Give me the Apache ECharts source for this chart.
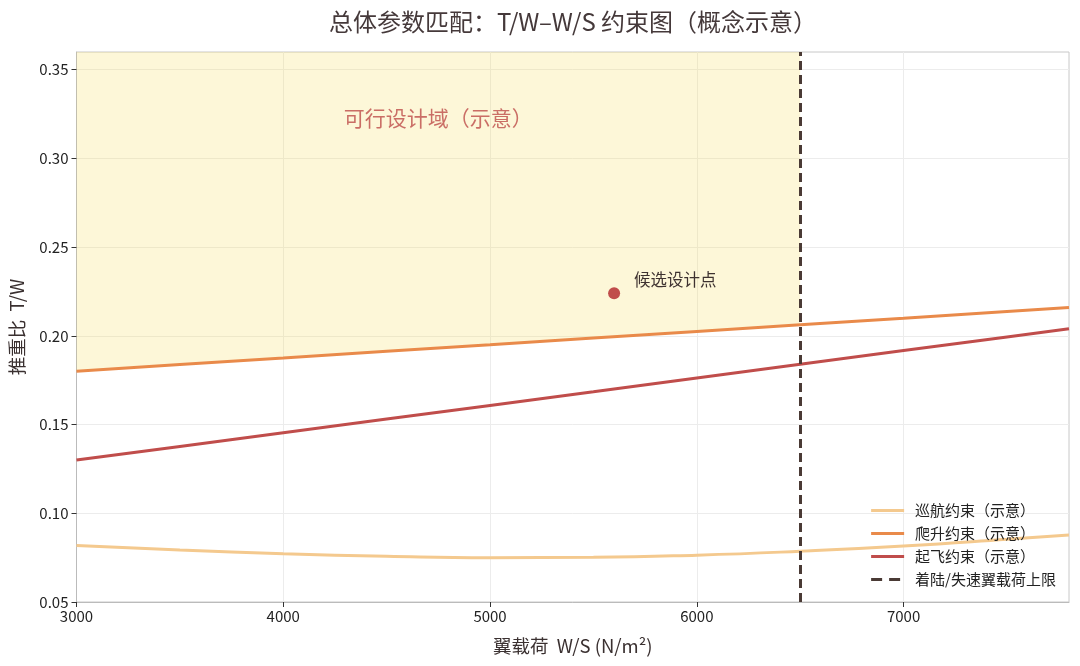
<!DOCTYPE html>
<html><head><meta charset="utf-8">
<script src="https://cdn.jsdelivr.net/npm/echarts@6/dist/echarts.min.js"></script>
<style>html,body{margin:0;padding:0;background:#fff}#c{width:1080px;height:666px}</style>
</head><body><div id="c"></div>
<script>
const xTicks = [3000, 4000, 5000, 6000, 7000];
const yTicks = [0.05, 0.10, 0.15, 0.20, 0.25, 0.30, 0.35];
const wsValues = [3000, 3500, 4000, 4500, 5000, 5500, 6000, 6500, 7000, 7500, 7800];
const cruiseTW = [0.0818, 0.0793, 0.0772, 0.0758, 0.0750, 0.0752, 0.0764, 0.0786, 0.0815, 0.0853, 0.0878];
const climbTW = [0.1800, 0.1838, 0.1875, 0.1913, 0.1950, 0.1988, 0.2025, 0.2063, 0.2100, 0.2138, 0.2160];
const takeoffTW = [0.1300, 0.1377, 0.1454, 0.1531, 0.1608, 0.1685, 0.1763, 0.1840, 0.1917, 0.1994, 0.2040];
const landingLimitWS = 6500;
const candidate = [5600, 0.224];
const feasibleLabelPos = [4750, 0.323];

const pair = (ys) => wsValues.map((x, i) => [x, ys[i]]);
const feasible = pair(climbTW).filter(p => p[0] <= landingLimitWS);
const FONT = '"Noto Sans CJK SC", "Noto Sans", sans-serif';
const legendNames = ['巡航约束（示意）', '爬升约束（示意）', '起飞约束（示意）', '着陆/失速翼载荷上限'];

const chart = echarts.init(document.getElementById('c'));
chart.setOption({
  backgroundColor: '#fff',
  animation: false,
  textStyle: { fontFamily: FONT },
  title: {
    text: '总体参数匹配：T/W–W/S 约束图（概念示意）',
    left: 568, top: 5, textAlign: 'center',
    textStyle: { fontFamily: FONT, fontSize: 24, fontWeight: 'normal', color: '#45393a' }
  },
  grid: { left: 75, right: 11, top: 52, bottom: 64, show: true, borderColor: '#c8c8c8', borderWidth: 1, containLabel: false },
  xAxis: {
    type: 'value', min: 3000, max: 7800, interval: 1000,
    name: '翼载荷  W/S (N/m²)', nameLocation: 'middle', nameGap: 35,
    nameTextStyle: { fontFamily: FONT, fontSize: 18.5, color: '#3a3030' },
    axisLine: { show: true, lineStyle: { color: '#bbbbbb', width: 1 } },
    axisTick: { show: true, length: 5, lineStyle: { color: '#333' }, customValues: xTicks },
    axisLabel: { fontFamily: FONT, fontSize: 15, color: '#222', margin: 7, customValues: xTicks,
      formatter: v => String(v) },
    splitLine: { show: true, lineStyle: { color: '#ececec', width: 1 } }
  },
  yAxis: {
    type: 'value', min: 0.05, max: 0.36, interval: 0.05,
    name: '推重比  T/W', nameLocation: 'middle', nameGap: 50,
    nameTextStyle: { fontFamily: FONT, fontSize: 18.5, color: '#3a3030' },
    axisLine: { show: true, lineStyle: { color: '#bbbbbb', width: 1 } },
    axisTick: { show: true, length: 5, lineStyle: { color: '#333' }, customValues: yTicks },
    axisLabel: { fontFamily: FONT, fontSize: 15, color: '#222', margin: 8, customValues: yTicks,
      formatter: v => v.toFixed(2) },
    splitLine: { show: true, lineStyle: { color: '#ececec', width: 1 } }
  },
  legend: {
    data: legendNames,
    orient: 'vertical', right: 18, bottom: 75,
    itemWidth: 33, itemHeight: 10, itemGap: 8,
    itemStyle: { opacity: 0 },
    lineStyle: { width: 3 },
    textStyle: { fontFamily: FONT, fontSize: 15, color: '#222', padding: [0, 0, 0, 6] },
    padding: [4, 6]
  },
  series: [
    {
      name: 'feasible', type: 'line', data: feasible, symbol: 'none',
      lineStyle: { width: 0 }, areaStyle: { origin: 'end', color: 'rgba(247,220,80,0.32)' },
      silent: true, z: 1
    },
    {
      name: legendNames[0], type: 'line', data: pair(cruiseTW), smooth: true, symbol: 'none',
      lineStyle: { color: '#f4c98e', width: 3 }, itemStyle: { color: '#f4c98e' }, z: 3
    },
    {
      name: legendNames[1], type: 'line', data: pair(climbTW), symbol: 'none',
      lineStyle: { color: '#e98a4a', width: 3 }, itemStyle: { color: '#e98a4a' }, z: 3
    },
    {
      name: legendNames[2], type: 'line', data: pair(takeoffTW), symbol: 'none',
      lineStyle: { color: '#c04d4b', width: 3 }, itemStyle: { color: '#c04d4b' }, z: 3
    },
    {
      name: legendNames[3], type: 'line', data: [], symbol: 'none',
      lineStyle: { color: '#4a3a35', width: 3, type: [11, 7] }, itemStyle: { color: '#4a3a35' },
      markLine: {
        silent: true, symbol: 'none', label: { show: false },
        lineStyle: { color: '#4a3a35', width: 3, type: [9, 5] },
        data: [{ xAxis: landingLimitWS }]
      }, z: 4
    },
    {
      name: 'candidate', type: 'scatter', data: [candidate], symbolSize: 12,
      itemStyle: { color: '#c04d4b', opacity: 1 },
      label: { show: true, position: 'right', distance: 14, offset: [0, -14], formatter: '候选设计点',
        fontFamily: FONT, fontSize: 16.5, color: '#3e3230' }, z: 5
    },
    {
      name: 'feasibleLabel', type: 'scatter', data: [feasibleLabelPos], symbolSize: 0,
      label: { show: true, position: 'inside', formatter: '可行设计域（示意）',
        fontFamily: FONT, fontSize: 21, color: '#bd4b48' }, z: 5, silent: true
    }
  ]
});
</script></body></html>
